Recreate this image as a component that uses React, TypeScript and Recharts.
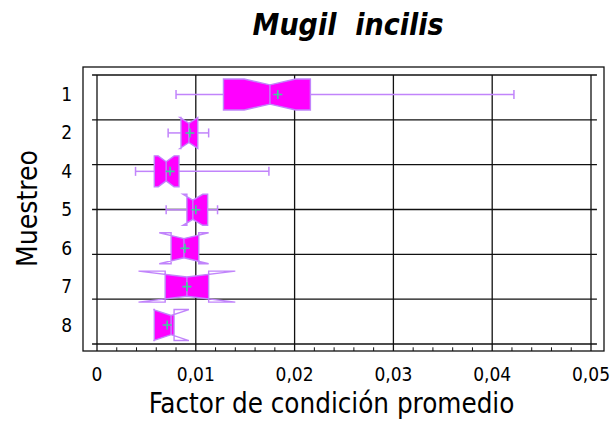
import React from "react";
import { Bar, ComposedChart, ReferenceLine, XAxis, YAxis } from "recharts";

// Notched box-and-whisker plot (Statgraphics style), one box per sampling.

const FONT = '"DejaVu Sans Condensed", "DejaVu Sans", sans-serif';
const FILL = "#ff00ff";
const EDGE = "#c184fb";
const MEAN = "#3ccf9c";
const INK = "#111";

const muestreos = ["1", "2", "4", "5", "6", "7", "8"];
const whiskerLow = [0.008, 0.0072, 0.0039, 0.007, 0.0075, 0.0069, 0.0058];
const q1 = [0.0128, 0.0085, 0.0058, 0.0091, 0.0075, 0.0069, 0.0058];
const median = [0.0175, 0.0093, 0.007, 0.0097, 0.0088, 0.0091, 0.0075];
const q3 = [0.0216, 0.0102, 0.0083, 0.0112, 0.0103, 0.0113, 0.0078];
const whiskerHigh = [0.0422, 0.0113, 0.0174, 0.0122, 0.0103, 0.0113, 0.0078];
const means = [0.0183, 0.0094, 0.0074, 0.01, 0.0089, 0.0091, 0.0071];
const notchHalf = [0.0026, 0.0009, 0.0008, 0.001, 0.0025, 0.0049, 0.0018];

const majorTicks = [0, 0.01, 0.02, 0.03, 0.04, 0.05];
const majorLabels = ["0", "0,01", "0,02", "0,03", "0,04", "0,05"];
const gridRows = [0, 1, 2, 3, 4, 5, 6];

// major ticks plus 4 minor ticks between each pair
const allTicks = majorTicks.flatMap((t, i) => {
  if (i === majorTicks.length - 1) return [t];
  const step = (majorTicks[i + 1] - t) / 5;
  return [0, 1, 2, 3, 4].map((k) => Number((t + k * step).toFixed(4)));
});

const data = muestreos.map((m, i) => {
  const nLo = median[i] - notchHalf[i];
  const nHi = median[i] + notchHalf[i];
  return {
    muestreo: m,
    wLo: whiskerLow[i],
    q1: q1[i],
    median: median[i],
    q3: q3[i],
    wHi: whiskerHigh[i],
    mean: means[i],
    nLo,
    nHi,
    range: [Math.min(whiskerLow[i], nLo), Math.max(whiskerHigh[i], nHi)],
  };
});

const majorIndex = (v: number) => majorTicks.findIndex((t) => Math.abs(t - v) < 1e-9);

function BottomTick({ x, y, payload }: any) {
  const i = majorIndex(payload.value);
  if (i < 0) return <line x1={x} x2={x} y1={y + 7} y2={y + 3.3} stroke={INK} />;
  return (
    <g>
      <line x1={x} x2={x} y1={y} y2={y + 7} stroke={INK} strokeWidth={1.3} />
      <text x={x} y={y + 37} textAnchor="middle" fontSize={19} fontFamily={FONT} fill="#000">
        {majorLabels[i]}
      </text>
    </g>
  );
}

function TopTick({ x, y, payload }: any) {
  const i = majorIndex(payload.value);
  if (i < 0) return <line x1={x} x2={x} y1={y - 8} y2={y - 4.3} stroke={INK} />;
  return <line x1={x} x2={x} y1={y} y2={y - 8} stroke={INK} strokeWidth={1.3} />;
}

function NotchedBox(props: any) {
  const { x, y, width, height, payload: d, index } = props;
  const [lo, hi] = d.range;
  const sx = (v: number) => x + ((v - lo) / (hi - lo)) * width;
  const top = y;
  const bot = y + height;
  const cy = y + height / 2;
  const dip = height * 0.19;
  const a = sx(d.q1);
  const b = sx(d.q3);
  const m = sx(d.median);
  const nl = sx(d.nLo);
  const nh = sx(d.nHi);
  const wl = sx(d.wLo);
  const wh = sx(d.wHi);
  const mx = sx(d.mean);
  const outline =
    `M${a},${top}L${nl},${top}L${m},${top + dip}L${nh},${top}L${b},${top}` +
    `L${b},${bot}L${nh},${bot}L${m},${bot - dip}L${nl},${bot}L${a},${bot}Z`;
  const clipId = `notch-clip-${index}`;
  return (
    <g>
      <defs>
        <clipPath id={clipId}>
          <rect x={a} y={top - 1} width={b - a} height={height + 2} />
        </clipPath>
      </defs>
      {wl < a - 0.5 && (
        <g stroke={EDGE} strokeWidth={1.5}>
          <line x1={wl} x2={a} y1={cy} y2={cy} />
          <line x1={wl} x2={wl} y1={cy - 4.5} y2={cy + 4.5} />
        </g>
      )}
      {wh > b + 0.5 && (
        <g stroke={EDGE} strokeWidth={1.5}>
          <line x1={b} x2={wh} y1={cy} y2={cy} />
          <line x1={wh} x2={wh} y1={cy - 4.5} y2={cy + 4.5} />
        </g>
      )}
      <path d={outline} fill={FILL} stroke="none" clipPath={`url(#${clipId})`} />
      <path d={outline} fill="none" stroke={EDGE} strokeWidth={1.4} />
      <line x1={m} x2={m} y1={top + dip} y2={bot - dip} stroke={EDGE} strokeWidth={1.4} />
      <path d={`M${mx - 4.5},${cy}h9M${mx},${cy - 4.5}v9`} stroke={MEAN} strokeWidth={1.6} fill="none" />
    </g>
  );
}

const XTitle = ({ viewBox }: any) => (
  <text
    x={viewBox.x + viewBox.width / 2 - 12.5}
    y={viewBox.y + 69}
    textAnchor="middle"
    fontSize={27.5}
    fontFamily={FONT}
    fill="#000"
  >
    Factor de condición promedio
  </text>
);

const YTitle = ({ viewBox }: any) => {
  const cx = viewBox.x - 20.3;
  const cy = viewBox.y + viewBox.height / 2 - 1;
  return (
    <text x={cx} y={cy} transform={`rotate(-90 ${cx} ${cy})`} textAnchor="middle" fontSize={28} fontFamily={FONT} fill="#000">
      Muestreo
    </text>
  );
};

export default function App() {
  return (
    <div style={{ position: "absolute", left: 0, top: 0, width: 612, height: 429, background: "#fff" }}>
      <svg width={612} height={429} style={{ position: "absolute", left: 0, top: 0 }}>
        <text
          x={348}
          y={35}
          textAnchor="middle"
          fontSize={30}
          fontWeight="bold"
          fontStyle="italic"
          fontFamily={FONT}
          fill="#000"
          xmlSpace="preserve"
        >
          Mugil  incilis
        </text>
        <rect x={83} y={67} width={521} height={284} fill="none" stroke={INK} strokeWidth={1.3} />
      </svg>
      <div style={{ position: "absolute", left: 0, top: 0 }}>
        <ComposedChart
          width={612}
          height={429}
          layout="vertical"
          data={data}
          margin={{ top: 67, right: 21, bottom: 25, left: 57 }}
          barSize={31}
        >
          <XAxis
            type="number"
            domain={[0, 0.05]}
            ticks={allTicks}
            interval={0}
            height={60}
            tickSize={0}
            tickMargin={0}
            axisLine={false}
            tickLine={false}
            tick={(p: any) => <BottomTick {...p} />}
            label={{ content: XTitle }}
          />
          <XAxis
            xAxisId="top"
            orientation="top"
            type="number"
            domain={[0, 0.05]}
            ticks={allTicks}
            interval={0}
            height={8}
            tickSize={0}
            tickMargin={0}
            axisLine={false}
            tickLine={false}
            tick={(p: any) => <TopTick {...p} />}
          />
          <YAxis
            type="category"
            dataKey="muestreo"
            width={40}
            interval={0}
            tickSize={0}
            tickMargin={25}
            axisLine={false}
            tickLine={false}
            tick={{ fontSize: 19, fill: "#000", fontFamily: FONT }}
            label={{ content: YTitle }}
          />
          <YAxis yAxisId="grid" type="number" domain={[0, 6]} hide />
          {majorTicks.map((t) => (
            <ReferenceLine key={`v${t}`} x={t} yAxisId="grid" stroke={INK} strokeWidth={1.3} zIndex={-50} />
          ))}
          {gridRows.map((r) => (
            <ReferenceLine
              key={`h${r}`}
              yAxisId="grid"
              segment={[
                { x: -0.0005, y: r },
                { x: 0.0506, y: r },
              ]}
              ifOverflow="visible"
              stroke={INK}
              strokeWidth={1.3}
              zIndex={-50}
            />
          ))}
          <Bar dataKey="range" shape={(p: any) => <NotchedBox {...p} />} isAnimationActive={false} />
        </ComposedChart>
      </div>
    </div>
  );
}
